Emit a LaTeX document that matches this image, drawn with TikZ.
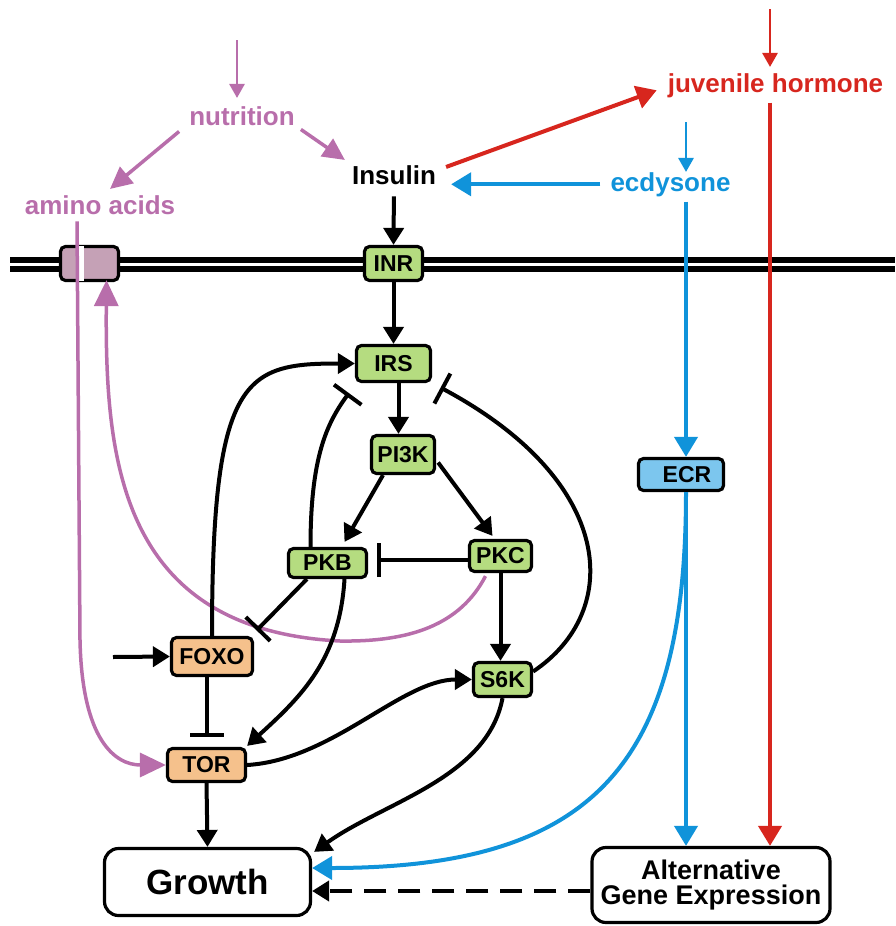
\documentclass[tikz,border=0pt]{standalone}
\usepackage{fontspec}
\setmainfont{Liberation Sans}
\usetikzlibrary{arrows.meta,calc}
\definecolor{pur}{HTML}{B86EAB}
\definecolor{jhred}{HTML}{D7261E}
\definecolor{ecblue}{HTML}{1093DA}
\definecolor{boxgreen}{HTML}{B5DC80}
\definecolor{boxorange}{HTML}{F5C18C}
\definecolor{boxpurple}{HTML}{C5A1B6}
\definecolor{boxblue}{HTML}{7CC6EE}
\begin{document}
\begin{tikzpicture}[x=1pt,y=-1pt,
  prot/.style={draw=black, line width=3.2pt, rounded corners=5pt, inner sep=0pt, font=\fontsize{23}{25}\selectfont\bfseries},
  bigbox/.style={draw=black, line width=3.2pt, rounded corners=14pt, inner sep=0pt, align=center, fill=white},
  lab/.style={font=\fontsize{26}{28}\selectfont\bfseries, inner sep=0pt, anchor=base},
  act/.style={draw=black, line width=4pt, -{Triangle[length=17pt,width=20pt]}},
  inh/.style={draw=black, line width=4pt, -{Bar[width=34pt,line width=4pt]}},
  pact/.style={draw=pur, line width=3.5pt, -{Triangle[length=22pt,width=21pt]}},
  pbig/.style={draw=pur, line width=3.5pt, -{Triangle[length=26pt,width=24pt]}},
  pthin/.style={draw=pur, line width=2.8pt, -{Triangle[length=14pt,width=15pt]}},
  ract/.style={draw=jhred, line width=4pt, -{Triangle[length=20pt,width=23pt]}},
  rthin/.style={draw=jhred, line width=2.8pt, -{Triangle[length=14pt,width=15pt]}},
  bact/.style={draw=ecblue, line width=4pt, -{Triangle[length=20pt,width=23pt]}},
  bthin/.style={draw=ecblue, line width=2.8pt, -{Triangle[length=14pt,width=15pt]}},
  dashact/.style={draw=black, line width=4pt, dash pattern=on 22pt off 12pt, -{Triangle[length=17pt,width=20pt]}},
]
\useasboundingbox (0,0) rectangle (895,926);
% membrane
\draw[line width=6pt] (10,260) -- (895,260);
\draw[line width=6pt] (10,269) -- (895,269);

% labels
\node[lab, text=pur] (nut) at (242,125) {nutrition};
\node[lab, text=pur] (amino) at (100,214) {amino acids};
\node[lab] (ins) at (394,184) {Insulin};
\node[lab, text=ecblue] (ecd) at (670.5,191) {ecdysone};
\node[lab, text=jhred] (jh) at (775.5,92) {juvenile hormone};

% boxes
\node[prot, fill=boxpurple, minimum width=58pt, minimum height=34pt] (chan) at (89.5,263.5) {};
\node[prot, fill=boxgreen, minimum width=58pt, minimum height=34pt] (inr) at (393.5,263.5) {INR};
\node[prot, fill=boxgreen, minimum width=74pt, minimum height=36pt] (irs) at (393.5,363.5) {IRS};
\node[prot, fill=boxgreen, minimum width=63pt, minimum height=38pt] (pi3k) at (403,454.5) {PI3K};
\node[prot, fill=boxgreen, minimum width=78pt, minimum height=29pt] (pkb) at (327.5,563) {PKB};
\node[prot, fill=boxgreen, minimum width=62pt, minimum height=31pt] (pkc) at (500.5,556) {PKC};
\node[prot, fill=boxgreen, minimum width=58pt, minimum height=34pt] (s6k) at (502.5,679.5) {S6K};
\node[prot, fill=boxorange, minimum width=81pt, minimum height=38pt] (foxo) at (212,656.5) {FOXO};
\node[prot, fill=boxorange, minimum width=78pt, minimum height=33pt] (tor) at (206.5,765) {TOR};
\node[prot, fill=boxblue, minimum width=85pt, minimum height=32pt, text width=85pt, align=center] (ecr) at (681,474.5) {\hspace*{12pt}ECR};
\node[bigbox, minimum width=206pt, minimum height=67pt, font=\fontsize{35}{40}\selectfont\bfseries] (growth) at (207.5,882) {Growth};
\node[bigbox, minimum width=238pt, minimum height=75pt, font=\fontsize{27}{25}\selectfont\bfseries] (alt) at (711,885) {Alternative\\Gene Expression};

% free ends
\coordinate (nutin) at (237,40);
\coordinate (ecdin) at (686,122);
\coordinate (jhin) at (770,9);
\coordinate (foxin) at (113,657);

% nutrition
\draw[pthin, shorten >=8pt] (nutin) -- (nutin |- nut.north);
\draw[pact] ([shift={(-10,6)}]nut.south west) -- ([shift={(10,-6)}]amino.north);
\draw[pact] ([shift={(6,4)}]nut.south east) -- ([shift={(-7,-5)}]ins.north west);

% amino acids -> TOR (over channel, with white halo)
\draw[white, line width=5pt] (81.5,246) -- (81.5,281);
\draw[pbig] ([shift={(-23,7)}]amino.south) -- (80,640) .. controls (82,740) and (115,765) .. (tor.west);

% PKC -> channel (purple)
\draw[pbig, shorten >=-2pt] ([shift={(-15,3)}]pkc.south) .. controls (460,625) and (410,642) .. (340,641)
   .. controls (120,630) and (105,460) .. ([xshift=17pt]chan.south);

% insulin / hormones
\draw[act, shorten <=12pt] (ins.south) -- (inr.north);
\draw[ract] ([shift={(10,2)}]ins.north east) -- ([shift={(-11,5)}]jh.west);
\draw[bact, shorten <=10pt, shorten >=15pt] (ecd.west) -- (ecd.west -| ins.east);
\draw[bthin] (ecdin) -- (ecdin |- ecd.north);
\draw[rthin, shorten >=6pt] (jhin) -- (jhin |- jh.north);
\draw[ract, shorten <=5pt] (jhin |- jh.south) -- (jhin |- alt.north);
\draw[bact, shorten <=5pt] (ecdin |- ecd.south) -- (ecdin |- ecr.north);
\draw[bact] (ecdin |- ecr.south) -- (ecdin |- alt.north);
\draw[bact] (ecdin |- ecr.south) .. controls +(0,270) and +(284,0) .. ([shift={(0,-14)}]growth.east);
\draw[dashact] ([yshift=-6pt]alt.west) -- ([yshift=-6pt]alt.west -| growth.east);

% pathway
\draw[act] (inr.south) -- (irs.north);
\draw[act] ([xshift=5pt]irs.south) -- ([xshift=5pt]irs.south |- pi3k.north);
\draw[act] ([shift={(-20,0)}]pi3k.south) -- ([shift={(17,-5)}]pkb.north);
\draw[act] ([shift={(2,8)}]pi3k.east) -- ([shift={(-8,-3)}]pkc.north);
\draw[inh, shorten >=8.5pt] ([yshift=-4pt]pkc.west) -- ([yshift=-4pt]pkc.west -| pkb.east);
\draw[act] (pkc.south) -- (pkc.south |- s6k.north);
\draw[act] (foxo.north) .. controls +(0,-260) and +(-110,0) .. (irs.west);
\draw[inh] ([xshift=-17pt]pkb.north) .. controls +(0,-90) and +(-22,30) .. ([shift={(-6,10)}]irs.south west);
\draw[inh] ([yshift=8pt]s6k.east) .. controls +(90,-60) and +(176,94) .. ([shift={(8.5,4.5)}]irs.south east);
\draw[inh] ([shift={(20,0)}]pkb.south west) -- ([shift={(2.5,-5.5)}]foxo.north east);
\draw[inh] (tor.north |- foxo.south) -- ([yshift=10pt]tor.north);
\draw[act] (foxin) -- (foxo.west);
\draw[act] ([xshift=17pt]pkb.south) .. controls +(-5,80) and +(55,-50) .. ([shift={(0,-1)}]tor.north east);
\draw[act] (tor.east) .. controls +(85,-5) and +(-70,0) .. (s6k.west);
\draw[act] (tor.south) -- (growth.north);
\draw[act] (s6k.south) .. controls +(-15,80) and +(70,-50) .. ($(growth.north east)+(2,5)$);
\end{tikzpicture}
\end{document}
